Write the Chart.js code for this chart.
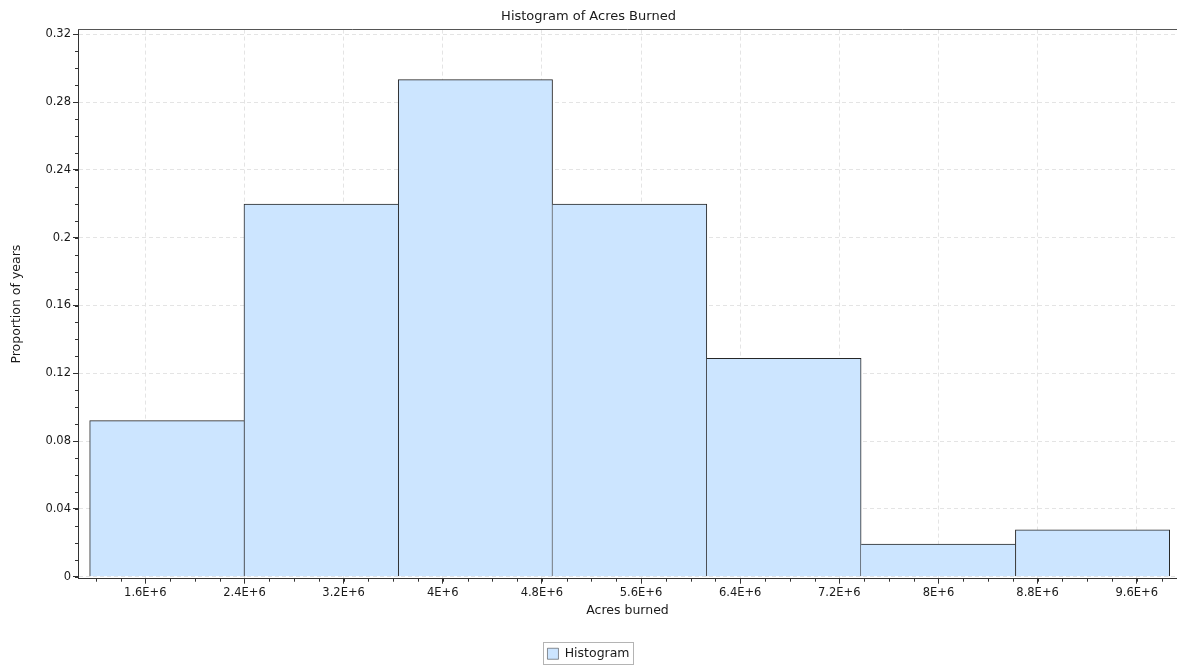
<!DOCTYPE html>
<html>
<head>
<meta charset="utf-8">
<title>Histogram of Acres Burned</title>
<script src="https://cdn.jsdelivr.net/npm/chart.js@4.4.0/dist/chart.umd.min.js"></script>
<style>
  html, body { margin: 0; padding: 0; background: #fff; }
  canvas { display: block; }
</style>
</head>
<body>
<canvas id="histChart" width="1177" height="666"></canvas>
<script>
/* Histogram bins (acres burned) and share of years per bin */
const binEdges = [1151000, 2396000, 3641000, 4886000, 6131000, 7376000, 8621000, 9866000];
const proportions = [0.0921, 0.2198, 0.2933, 0.2198, 0.1289, 0.0192, 0.0277];

/* Axis ticks and ranges */
const xTicks = [1600000, 2400000, 3200000, 4000000, 4800000, 5600000, 6400000, 7200000, 8000000, 8800000, 9600000];
const yTicks = [0, 0.04, 0.08, 0.12, 0.16, 0.2, 0.24, 0.28, 0.32];
const xRange = [1056800, 9925000];
const yRange = [-0.0012, 0.3228];
const xMinorStep = 200000;
const yMinorStep = 0.01;

const FONT = 'DejaVu Sans';
const INK = '#1a1a1a';
const AXIS = '#333333';
const GRID = '#e4e4e4';

Chart.defaults.font.family = FONT;

const bars = proportions.map((p, i) => ({ x: (binEdges[i] + binEdges[i + 1]) / 2, y: p }));

// one shared outline between neighbouring bars: the taller side draws it
function barBorder(ctx) {
  if (ctx.type !== 'data') return 1;
  const i = ctx.dataIndex, v = proportions, last = v.length - 1;
  return {
    top: 1,
    bottom: 0,
    left: (i === 0 || v[i] >= v[i - 1]) ? 1 : 0,
    right: (i === last || v[i] > v[i + 1]) ? 1 : 0
  };
}

/* Minor ticks, plot top frame and legend frame */
const axisExtras = {
  id: 'axisExtras',
  afterDraw(chart) {
    const { ctx, chartArea: a, scales } = chart;
    ctx.save();
    ctx.strokeStyle = AXIS;
    ctx.lineWidth = 1;
    ctx.beginPath();
    const k0 = Math.ceil(xRange[0] / xMinorStep), k1 = Math.floor(xRange[1] / xMinorStep);
    for (let k = k0; k <= k1; k++) {
      const px = Math.round(scales.x.getPixelForValue(k * xMinorStep)) + 0.5;
      ctx.moveTo(px, a.bottom);
      ctx.lineTo(px, a.bottom + 3);
    }
    const n = Math.round(yTicks[yTicks.length - 1] / yMinorStep);
    for (let k = 0; k <= n; k++) {
      const py = Math.round(scales.y.getPixelForValue(k * yMinorStep)) + 0.5;
      ctx.moveTo(a.left - 3, py);
      ctx.lineTo(a.left, py);
    }
    ctx.stroke();

    ctx.strokeStyle = '#555';
    ctx.beginPath();
    ctx.moveTo(a.left, Math.round(a.top) - 0.5);
    ctx.lineTo(a.right, Math.round(a.top) - 0.5);
    ctx.stroke();

    const hb = chart.legend && chart.legend.legendHitBoxes[0];
    if (hb) {
      ctx.strokeStyle = '#b4b4b4';
      ctx.strokeRect(Math.round(hb.left - 4) + 0.5, Math.round(hb.top - 6) + 0.5,
        Math.round(hb.width + 8), Math.round(hb.height + 9));
    }
    ctx.restore();
  }
};

new Chart(document.getElementById('histChart'), {
  type: 'bar',
  data: {
    datasets: [{
      label: 'Histogram',
      data: bars,
      xAxisID: 'xb',
      yAxisID: 'y',
      backgroundColor: '#cce5ff',
      borderColor: '#262626',
      borderWidth: barBorder,
      borderSkipped: false,
      categoryPercentage: 1,
      barPercentage: 1
    }]
  },
  options: {
    responsive: false,
    animation: false,
    devicePixelRatio: 1,
    // the legend keeps a fixed empty strip below its item; let it run past the edge
    layout: { padding: { left: 0, right: 0, top: 0, bottom: -4 } },
    scales: {
      // hidden axis with ticks on the bin edges, so each bar spans its bin
      xb: {
        type: 'linear',
        display: false,
        offset: false,
        min: xRange[0],
        max: xRange[1],
        afterBuildTicks: s => { s.ticks = binEdges.map(v => ({ value: v })); }
      },
      x: {
        type: 'linear',
        position: 'bottom',
        offset: false,
        min: xRange[0],
        max: xRange[1],
        afterBuildTicks: s => { s.ticks = xTicks.map(v => ({ value: v })); },
        grid: { offset: false, color: GRID, tickColor: AXIS, tickLength: 5 },
        border: { color: AXIS, dash: [4, 3] },
        ticks: {
          color: INK,
          font: { size: 11.5 },
          padding: 2,
          maxRotation: 0,
          autoSkip: false,
          callback: v => +(v / 1e6).toFixed(1) + 'E+6'
        },
        title: {
          display: true,
          text: 'Acres burned',
          color: INK,
          font: { size: 12.5 },
          padding: { top: 2, bottom: 27 }
        }
      },
      y: {
        type: 'linear',
        min: yRange[0],
        max: yRange[1],
        afterBuildTicks: s => { s.ticks = yTicks.map(v => ({ value: v })); },
        afterFit: s => { s.width = 78; },
        grid: { color: GRID, tickColor: AXIS, tickLength: 5 },
        border: { color: AXIS, dash: [4, 3] },
        ticks: {
          color: INK,
          font: { size: 11.5 },
          padding: 2,
          callback: v => String(+v.toFixed(2))
        },
        title: {
          display: true,
          text: 'Proportion of years',
          color: INK,
          font: { size: 12.5 },
          padding: { top: 9.5, bottom: 0 }
        }
      }
    },
    plugins: {
      title: {
        display: true,
        text: 'Histogram of Acres Burned',
        color: INK,
        font: { size: 13, weight: 'normal' },
        padding: { top: 9, bottom: 5 }
      },
      legend: {
        position: 'bottom',
        labels: { color: INK, font: { size: 12.5 }, boxWidth: 11, boxHeight: 11, padding: 2 }
      },
      tooltip: { enabled: false }
    }
  },
  plugins: [axisExtras]
});
</script>
</body>
</html>
